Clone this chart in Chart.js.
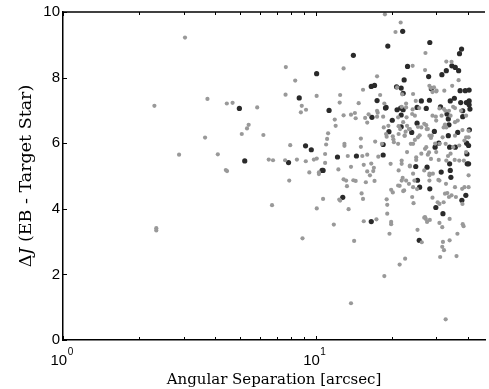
<!DOCTYPE html>
<html lang="en">
<head>
  <meta charset="UTF-8">
  <title>Delta J vs angular separation</title>
  <script src="https://cdn.jsdelivr.net/npm/chart.js"></script>
  <style>
    html, body { margin: 0; padding: 0; background: #fff; }
    #wrap { width: 489px; height: 389px; }
  </style>
</head>
<body>
<div id="wrap"><canvas id="sepChart" width="489" height="389"></canvas></div>

<script>
  // gray points: all blended neighbours
  const grayX = [2.30, 2.34, 2.34, 3.04, 2.88, 3.65, 3.73, 4.10, 4.41, 4.46, 4.45, 4.69, 5.10, 5.35, 5.43, 5.87, 6.21, 6.72, 6.52, 6.78,
    7.62, 7.60, 7.57, 7.86, 7.93, 8.30, 8.43, 8.87, 8.81, 8.74, 9.16, 9.14, 9.44, 9.84, 10.09, 10.1, 10.1, 10.3, 10.3, 10.7,
    10.9, 10.9, 11.0, 11.1, 11.2, 11.8, 11.9, 12.0, 12.3, 12.4, 12.5, 12.5, 12.45, 12.9, 12.9, 13.0, 13.0, 12.9, 13.2, 13.3,
    13.5, 13.4, 13.8, 13.8, 13.8, 14.1, 14.2, 14.4, 14.3, 14.4, 14.8, 15.1, 15.1, 15.3, 15.2, 15.4, 15.5, 15.5, 15.4, 15.7,
    16.0, 15.8, 16.0, 16.0, 16.2, 16.4, 16.6, 16.9, 17.2, 17.0, 17.1, 17.4, 17.5, 17.5, 17.5, 17.6, 17.7, 18.0, 18.3, 18.7,
    18.8, 18.6, 18.5, 18.7, 19.0, 19.1, 19.1, 19.2, 19.2, 19.4, 19.6, 19.8, 19.9, 19.9, 19.9, 20.2, 20.3, 20.4, 20.2, 20.7,
    21.0, 21.3, 21.3, 21.5, 21.3, 21.5, 21.7, 21.9, 22.1, 22.0, 22.4, 22.5, 22.7, 22.6, 22.8, 22.8, 22.9, 23.0, 23.4, 23.6,
    23.4, 23.8, 24.1, 24.3, 24.1, 24.2, 24.3, 24.4, 24.6, 24.7, 24.9, 25.0, 25.2, 25.3, 25.4, 25.8, 26.3, 26.9, 27.1, 27.2,
    27.1, 27.1, 27.3, 27.4, 27.5, 27.8, 28.1, 28.2, 28.2, 28.3, 28.6, 28.6, 28.8, 29.1, 29.0, 29.7, 29.9, 30.1, 30.4, 30.7,
    30.9, 30.9, 31.1, 31.5, 31.7, 31.7, 31.9, 32.1, 32.1, 32.3, 32.5, 32.6, 32.7, 32.7, 32.8, 32.9, 33.2, 33.4, 33.9, 33.9,
    34.5, 34.5, 34.7, 35.0, 35.0, 35.5, 35.9, 36.1, 36.4, 36.5, 36.8, 38.0, 38.1, 38.2, 38.5, 38.6, 38.8, 40.3, 40.3, 40.3,
    23.6, 21.9, 21.9, 21.2, 22.2, 28.2, 29.0, 30.6, 32.5, 33.7, 35.6, 38.8, 26.9, 30.9, 32.2, 27.6, 40.3,
    24.3, 28.2, 30.0, 29.4, 24.2, 22.8, 25.7, 30.9, 32.2, 33.7, 35.6, 37.6, 39.4, 21.2, 24.7, 29.0, 34.2, 22.2, 26.9, 30.0,
    35.6, 21.6, 23.6, 26.2, 27.8, 32.9, 38.1, 22.5, 25.4, 28.2, 31.8, 35.6, 39.4, 21.2, 24.3, 27.4, 30.9, 37.0, 23.0, 26.2,
    30.0, 34.2, 39.4, 21.9, 25.0, 28.6, 32.9, 37.0];
  const grayY = [7.14, 3.41, 3.34, 9.22, 5.65, 6.17, 7.35, 5.66, 5.18, 5.15, 7.21, 7.23, 6.28, 6.45, 6.56, 7.09, 6.25, 4.11, 5.50, 5.48,
    8.32, 7.48, 5.48, 4.86, 5.94, 7.91, 5.50, 3.10, 7.14, 6.94, 7.02, 5.45, 5.11, 5.50, 7.44, 5.53, 4.01, 5.06, 5.11, 4.30,
    5.40, 5.67, 5.96, 6.13, 6.30, 3.52, 6.72, 6.53, 5.20, 4.28, 4.25, 7.47, 7.24, 8.28, 6.85, 5.92, 5.98, 4.90, 4.86, 4.69,
    3.99, 5.61, 1.12, 5.28, 6.87, 4.87, 3.02, 4.85, 6.92, 6.76, 7.22, 5.89, 6.14, 5.61, 4.47, 4.30, 3.62, 5.34, 7.63, 6.77,
    5.14, 4.81, 5.65, 6.63, 6.88, 5.02, 5.38, 5.15, 6.05, 5.25, 4.85, 3.68, 8.04, 6.99, 6.81, 6.93, 5.59, 7.47, 5.98, 1.95,
    9.93, 6.48, 6.81, 7.21, 6.28, 6.20, 4.29, 4.12, 3.85, 6.53, 3.24, 5.37, 4.58, 3.60, 3.53, 6.21, 6.12, 6.03, 4.50, 9.39,
    7.70, 6.52, 6.28, 4.70, 5.17, 2.30, 9.68, 7.11, 4.94, 7.49, 4.56, 6.23, 6.35, 2.48, 7.21, 4.86, 6.79, 6.53, 6.43, 5.29,
    4.76, 5.98, 6.89, 5.07, 4.36, 8.36, 4.66, 4.17, 4.86, 6.10, 7.29, 5.57, 4.60, 3.36, 6.50, 6.24, 2.98, 5.17, 8.23, 8.75,
    5.83, 3.75, 3.69, 6.55, 6.43, 5.65, 5.72, 5.07, 4.86, 3.66, 6.16, 7.68, 6.23, 5.07, 7.56, 5.99, 6.81, 7.60, 4.20, 5.49,
    4.86, 4.15, 2.53, 6.84, 3.44, 2.84, 2.99, 4.20, 6.48, 7.60, 6.57, 6.99, 0.63, 5.98, 4.76, 8.49, 4.48, 5.61, 3.69, 3.04,
    8.48, 4.41, 7.75, 5.88, 7.11, 5.49, 4.36, 2.56, 3.24, 6.69, 7.92, 4.61, 4.15, 3.53, 3.47, 5.47, 6.08, 4.66, 6.38, 6.18,
    5.32, 5.37, 4.86, 4.71, 4.54, 5.02, 4.34, 4.88, 4.46, 4.36, 4.66, 4.66, 3.73, 3.57, 2.74, 3.60, 5.02,
    7.50, 7.75, 7.58, 7.70, 7.03, 7.09, 7.07, 7.06, 7.04, 6.99, 7.07, 6.99, 6.84, 6.79, 6.84, 6.84, 6.84, 6.64, 6.59, 6.69,
    6.64, 6.43, 6.43, 6.48, 6.43, 6.48, 6.40, 6.23, 6.18, 6.23, 6.18, 6.23, 6.18, 5.98, 5.98, 5.88, 5.98, 5.93, 5.73, 5.68,
    5.73, 5.68, 5.73, 5.47, 5.49, 5.52, 5.47, 5.47];

  // dark points
  const darkX = [4.99, 5.24, 7.81, 8.61, 9.12, 9.61, 10.09, 10.6, 10.7, 11.3, 12.2, 12.8, 14.1, 14.5, 16.6, 16.6, 16.7, 17.1, 17.5, 18.5,
    18.5, 18.9, 19.0, 19.3, 19.5, 20.1, 20.9, 21.0, 21.7, 21.8, 21.8, 21.8, 22.1, 22.2, 22.4, 22.2, 23.1, 24.0, 24.9, 25.3,
    25.7, 25.8, 25.2, 25.2, 26.2, 27.4, 27.6, 28.0, 28.3, 28.2, 28.3, 28.7, 29.5, 29.7, 29.9, 30.7, 31.2, 31.4, 31.6, 31.9,
    32.9, 33.1, 33.5, 33.5, 33.7, 33.9, 33.9, 34.1, 34.3, 34.1, 34.6, 35.4, 35.7, 35.7, 36.5, 36.8, 37.1, 37.3, 37.5, 37.8,
    37.9, 38.2, 38.2, 39.1, 39.3, 39.5, 39.6, 39.7, 39.8, 40.3, 40.3, 40.5, 40.5, 40.5, 40.8, 40.6];
  const darkY = [7.06, 5.46, 5.41, 7.38, 5.92, 5.80, 8.12, 5.17, 5.17, 7.00, 5.58, 4.35, 8.68, 5.61, 7.73, 3.61, 6.79, 7.76, 7.30, 5.96,
    5.64, 7.07, 7.09, 8.96, 6.35, 6.70, 7.72, 7.02, 7.07, 7.68, 6.86, 6.50, 9.41, 7.52, 7.93, 7.02, 8.34, 6.33, 5.29, 4.87,
    3.04, 4.66, 7.09, 6.61, 7.29, 7.06, 5.27, 8.03, 4.61, 7.31, 9.07, 7.66, 6.36, 5.88, 4.04, 6.00, 7.11, 5.12, 8.09, 3.85,
    8.21, 6.89, 6.74, 6.23, 6.56, 5.88, 5.37, 5.17, 4.96, 7.29, 8.36, 7.37, 5.88, 8.31, 6.33, 8.21, 8.73, 7.60, 7.24, 8.87,
    4.26, 6.99, 6.81, 7.60, 4.41, 7.24, 6.00, 5.67, 5.37, 5.93, 5.37, 7.62, 7.29, 7.17, 7.04, 6.41];

  const yTicks = [0, 2, 4, 6, 8, 10];
  const xMajor = [1, 10];
  const xMinor = [2, 3, 4, 5, 6, 7, 8, 9, 20, 30, 40];

  const toPoints = (xs, ys) => xs.map((v, i) => ({ x: v, y: ys[i] }));

  const frame = {
    id: 'frame',
    afterDraw(chart) {
      const { ctx, chartArea: a, scales: { x, y } } = chart;
      const line = (x1, y1, x2, y2) => { ctx.beginPath(); ctx.moveTo(x1, y1); ctx.lineTo(x2, y2); ctx.stroke(); };
      ctx.save();
      ctx.strokeStyle = '#000';
      ctx.lineWidth = 1.5;
      line(a.left, a.top, a.right, a.top);

      ctx.lineWidth = 1;
      yTicks.forEach(v => {
        const py = Math.round(y.getPixelForValue(v)) + 0.5;
        line(a.left, py, a.left + 4, py);
      });
      xMajor.concat(xMinor).forEach(v => {
        const px = Math.round(x.getPixelForValue(v)) + 0.5;
        const len = xMajor.includes(v) ? 4 : 3;
        line(px, a.top, px, a.top + len);
        line(px, a.bottom, px, a.bottom - len);
      });

      // x tick labels, 10^n
      ctx.fillStyle = '#000';
      ctx.textBaseline = 'alphabetic';
      ctx.textAlign = 'left';
      xMajor.forEach(v => {
        const px = x.getPixelForValue(v);
        ctx.font = '15px "Liberation Sans"';
        ctx.fillText('10', px - 12.5, 365);
        const w = ctx.measureText('10').width;
        ctx.font = '10px "Liberation Sans"';
        ctx.fillText(String(Math.round(Math.log10(v))), px - 12.5 + w + 0.5, 355);
      });

      // y title with italic J
      const parts = [['Δ', '17.5px "DejaVu Serif"'], ['J', 'italic 17.5px "DejaVu Serif"'], [' (EB - Target Star)', '17.5px "DejaVu Serif"']];
      let total = 0;
      parts.forEach(p => { ctx.font = p[1]; total += ctx.measureText(p[0]).width; });
      ctx.translate(26, (a.top + a.bottom) / 2);
      ctx.rotate(-Math.PI / 2);
      ctx.textBaseline = 'middle';
      let cx = -total / 2;
      parts.forEach(p => {
        ctx.font = p[1];
        ctx.fillText(p[0], cx, 0);
        cx += ctx.measureText(p[0]).width;
      });
      ctx.restore();
    }
  };

  new Chart(document.getElementById('sepChart'), {
    type: 'scatter',
    data: {
      datasets: [
        {
          label: 'all',
          data: toPoints(grayX, grayY),
          backgroundColor: '#999999',
          borderWidth: 0,
          pointRadius: 2.1,
        },
        {
          label: 'selected',
          data: toPoints(darkX, darkY),
          backgroundColor: '#2a2a2a',
          borderWidth: 0,
          pointRadius: 2.6,
        },
      ],
    },
    options: {
      responsive: false,
      animation: false,
      events: [],
      layout: { padding: { top: 11, right: 0, left: 0, bottom: 0 } },
      plugins: { legend: { display: false }, tooltip: { enabled: false } },
      scales: {
        x: {
          type: 'logarithmic',
          min: 1,
          max: 46.8,
          grid: { display: false, drawTicks: false, tickLength: 0 },
          border: { display: true, color: '#000', width: 1.5 },
          ticks: { display: false },
          title: {
            display: true,
            text: 'Angular Separation [arcsec]',
            color: '#000',
            font: { family: 'DejaVu Serif', size: 15 },
            padding: { top: 0, bottom: 0 },
          },
          afterFit(scale) { scale.height = 49; },
        },
        y: {
          min: 0,
          max: 10,
          grid: { display: false, drawTicks: false, tickLength: 0 },
          border: { display: true, color: '#000', width: 1.5 },
          ticks: {
            stepSize: 2,
            padding: 3,
            color: '#000',
            font: { family: 'Liberation Sans', size: 15 },
          },
          afterFit(scale) { scale.width = 63; },
        },
      },
    },
    plugins: [frame],
  });
</script>
</body>
</html>
